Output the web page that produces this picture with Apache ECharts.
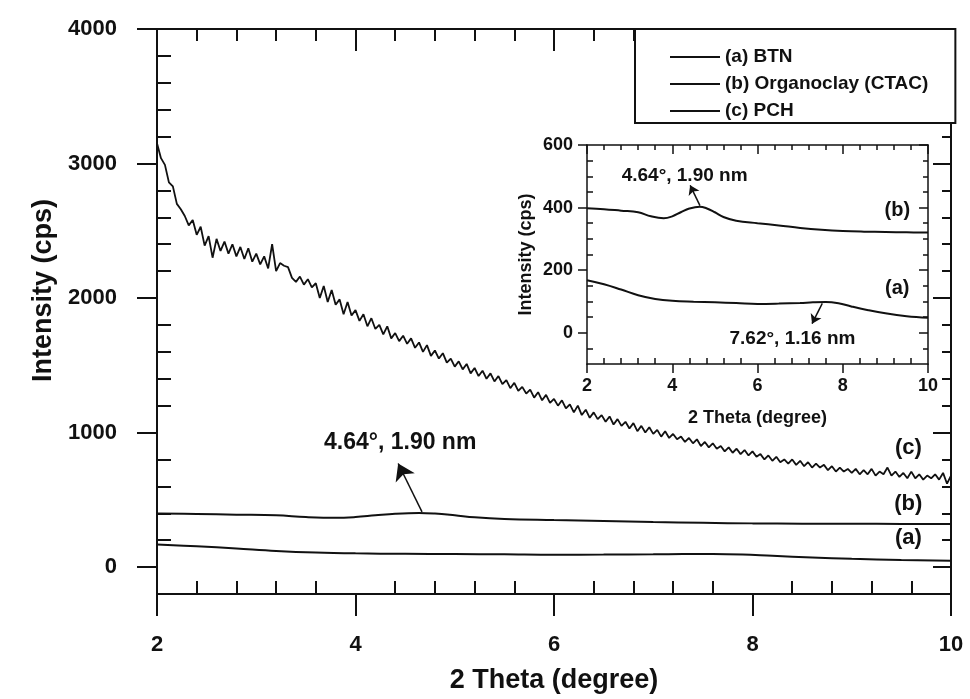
<!DOCTYPE html>
<html>
<head>
<meta charset="utf-8">
<title>XRD patterns BTN / Organoclay / PCH</title>
<script src="https://cdn.jsdelivr.net/npm/echarts@6.0.0/dist/echarts.min.js"></script>
<style>
  html, body { margin: 0; padding: 0; background: #fff; }
  #chart { width: 970px; height: 699px; }
</style>
</head>
<body>
<div id="chart"></div>
<script>
// ---- data ----
const nameA = '(a) BTN'
const nameB = '(b) Organoclay (CTAC)'
const nameC = '(c) PCH'

// (a) BTN
const thetaA = [2.0, 2.4, 2.8, 3.2, 3.6, 4.0, 4.5, 5.0, 5.5, 6.0, 6.5, 7.0, 7.3, 7.6, 7.9, 8.2, 8.6, 9.0, 9.5, 10.0]
const intensityA = [168, 155, 138, 120, 108, 102, 99, 97, 95, 92, 93, 95, 97, 98, 94, 84, 72, 62, 53, 48]

// (b) Organoclay (CTAC)
const thetaB = [2.0, 2.4, 2.8, 3.2, 3.5, 3.8, 4.0, 4.2, 4.4, 4.64, 4.8, 5.0, 5.2, 5.5, 6.0, 6.5, 7.0, 7.5, 8.0, 8.5, 9.0, 9.5, 10.0]
const intensityB = [398, 395, 390, 385, 372, 366, 372, 385, 397, 403, 398, 385, 370, 358, 350, 343, 335, 329, 325, 323, 322, 321, 320]

// (c) PCH, one reading every 0.04 degree from 2 to 10
const thetaStartC = 2
const thetaStepC = 0.04
const intensityC = [
  3150, 3040, 2990, 2860, 2830, 2700, 2660, 2610, 2540, 2580,
  2470, 2530, 2390, 2460, 2300, 2440, 2350, 2420, 2330, 2400,
  2310, 2380, 2290, 2370, 2270, 2330, 2250, 2310, 2220, 2400,
  2200, 2260, 2240, 2230, 2150, 2120, 2160, 2100, 2140, 2080,
  2110, 2000, 2090, 1970, 2060, 1950, 1990, 1880, 1970, 1870,
  1910, 1830, 1880, 1790, 1850, 1770, 1800, 1730, 1790, 1700,
  1740, 1680, 1720, 1660, 1700, 1630, 1670, 1600, 1650, 1570,
  1610, 1550, 1590, 1520, 1550, 1490, 1530, 1470, 1510, 1440,
  1480, 1420, 1460, 1400, 1440, 1380, 1420, 1360, 1390, 1330,
  1370, 1310, 1340, 1290, 1320, 1260, 1300, 1240, 1280, 1220,
  1250, 1200, 1240, 1180, 1210, 1150, 1200, 1130, 1170, 1110,
  1150, 1100, 1130, 1080, 1120, 1060, 1100, 1050, 1080, 1030,
  1070, 1010, 1050, 1000, 1040, 990, 1020, 970, 1010, 960,
  990, 950, 970, 930, 960, 920, 950, 900, 930, 890,
  920, 880, 900, 860, 890, 850, 880, 840, 870, 830,
  860, 820, 840, 800, 830, 790, 820, 780, 800, 770,
  800, 760, 790, 750, 780, 740, 770, 740, 760, 720,
  750, 710, 740, 710, 730, 700, 730, 690, 720, 690,
  730, 680, 710, 690, 740, 680, 710, 670, 700, 660,
  710, 660, 690, 650, 680, 660, 690, 650, 700, 620,
  680
]

// tick values
const xMajor = [2, 4, 6, 8, 10]
const xMinor = [2.4, 2.8, 3.2, 3.6, 4.4, 4.8, 5.2, 5.6, 6.4, 6.8, 7.2, 7.6, 8.4, 8.8, 9.2, 9.6]
const yMajorMain = [0, 1000, 2000, 3000, 4000]
const yMinorMain = [200, 400, 600, 800, 1200, 1400, 1600, 1800, 2200, 2400, 2600, 2800, 3200, 3400, 3600, 3800]
const yMajorInset = [0, 200, 400, 600]
const yMinorInset = [-50, 50, 100, 150, 250, 300, 350, 450, 500, 550]

// ---- annotation texts ----
const peakTextMain = '4.64°, 1.90 nm'
const peakTextB = '4.64°, 1.90 nm'
const peakTextA = '7.62°, 1.16 nm'

const FONT = "'Liberation Sans', Arial, Helvetica, sans-serif"
const INK = '#111'

function pairs(xs, ys) {
  return ys.map(function (y, i) { return [xs[i], y] })
}
const dataC = intensityC.map(function (y, i) {
  return [+(thetaStartC + i * thetaStepC).toFixed(2), y]
})

// one axis = one set of ticks; major and minor ticks point different ways,
// so every side gets two stacked axes
function axis(grid, position, min, max, cfg) {
  return {
    type: 'value',
    gridIndex: grid,
    position: position,
    min: min,
    max: max,
    axisLine: { show: !!cfg.line, onZero: false, lineStyle: { color: INK, width: cfg.lineWidth || 2 } },
    axisTick: {
      show: true,
      inside: !!cfg.inside,
      length: cfg.tickLen,
      customValues: cfg.ticks,
      lineStyle: { color: INK, width: cfg.tickWidth || 2 }
    },
    axisLabel: cfg.labelSize ? {
      show: true,
      customValues: cfg.ticks,
      formatter: function (v) { return String(v) },
      margin: cfg.margin,
      fontSize: cfg.labelSize,
      fontWeight: 'bold',
      fontFamily: FONT,
      color: INK
    } : { show: false },
    splitLine: { show: false },
    name: cfg.name || '',
    nameLocation: 'middle',
    nameGap: cfg.nameGap || 0,
    nameTextStyle: {
      fontSize: cfg.nameSize || 12,
      fontWeight: 'bold',
      fontFamily: FONT,
      color: INK,
      padding: cfg.namePadding || 0
    }
  }
}

function textMark(coord, text, size) {
  return {
    coord: coord,
    label: { formatter: text, fontSize: size }
  }
}

const markText = {
  symbol: 'circle',
  symbolSize: 1,
  silent: true,
  itemStyle: { color: 'rgba(0,0,0,0)' },
  label: { show: true, position: 'inside', fontWeight: 'bold', fontFamily: FONT, color: INK }
}

function arrow(from, to, size) {
  return {
    silent: true,
    symbol: ['none', 'arrow'],
    symbolSize: size,
    label: { show: false },
    lineStyle: { type: 'solid', color: INK, width: 1.5, opacity: 1 },
    itemStyle: { color: INK },
    emphasis: { disabled: true },
    data: [[{ coord: from }, { coord: to }]]
  }
}

const chart = echarts.init(document.getElementById('chart'), null, { renderer: 'canvas' })

const option = {
  animation: false,
  backgroundColor: '#fff',
  grid: [
    { left: 157, right: 19, top: 29, bottom: 105, outerBoundsMode: 'none' },
    { left: 587, right: 42, top: 145, bottom: 335, outerBoundsMode: 'none' }
  ],
  legend: {
    data: [nameA, nameB, nameC],
    orient: 'vertical',
    left: 635,
    top: 29,
    padding: [18, 27, 2, 35],
    itemGap: 7,
    itemWidth: 50,
    itemHeight: 2,
    icon: 'rect',
    selectedMode: false,
    borderColor: INK,
    borderWidth: 2,
    borderRadius: 0,
    backgroundColor: '#fff',
    textStyle: { fontSize: 19, lineHeight: 20, fontWeight: 'bold', fontFamily: FONT, color: INK }
  },
  xAxis: [
    // main
    axis(0, 'bottom', 2, 10, { line: true, ticks: xMajor, tickLen: 22, labelSize: 22, margin: 40,
      name: '2 Theta (degree)', nameGap: 73, nameSize: 27 }),
    axis(0, 'bottom', 2, 10, { ticks: xMinor, tickLen: 13, inside: true }),
    axis(0, 'top', 2, 10, { line: true, ticks: xMinor, tickLen: 12, inside: true }),
    axis(0, 'top', 2, 10, { ticks: xMajor, tickLen: 22, inside: true }),
    // inset
    axis(1, 'bottom', 2, 10, { line: true, lineWidth: 1.5, ticks: xMajor, tickLen: 9, tickWidth: 1.5, labelSize: 18, margin: 13,
      name: '2 Theta (degree)', nameGap: 45, nameSize: 18 }),
    axis(1, 'bottom', 2, 10, { ticks: xMinor, tickLen: 6, tickWidth: 1.5, inside: true }),
    axis(1, 'top', 2, 10, { line: true, lineWidth: 1.5, ticks: xMinor, tickLen: 5, tickWidth: 1.5, inside: true }),
    axis(1, 'top', 2, 10, { ticks: xMajor, tickLen: 9, tickWidth: 1.5, inside: true })
  ],
  yAxis: [
    // main
    axis(0, 'left', -200, 4000, { line: true, ticks: yMajorMain, tickLen: 20, labelSize: 22, margin: 40,
      name: 'Intensity (cps)', nameGap: 98, nameSize: 27, namePadding: [0, 0, 0, 42] }),
    axis(0, 'left', -200, 4000, { ticks: yMinorMain, tickLen: 14, inside: true }),
    axis(0, 'right', -200, 4000, { line: true, ticks: yMinorMain, tickLen: 9, inside: true }),
    axis(0, 'right', -200, 4000, { ticks: yMajorMain, tickLen: 18, inside: true }),
    // inset
    axis(1, 'left', -100, 600, { line: true, lineWidth: 1.5, ticks: yMajorInset, tickLen: 9, tickWidth: 1.5, labelSize: 18, margin: 14,
      name: 'Intensity (cps)', nameGap: 52, nameSize: 18 }),
    axis(1, 'left', -100, 600, { ticks: yMinorInset, tickLen: 6, tickWidth: 1.5, inside: true }),
    axis(1, 'right', -100, 600, { line: true, lineWidth: 1.5, ticks: yMinorInset, tickLen: 5, tickWidth: 1.5, inside: true }),
    axis(1, 'right', -100, 600, { ticks: yMajorInset, tickLen: 9, tickWidth: 1.5, inside: true })
  ],
  series: [
    {
      name: nameA,
      type: 'line',
      xAxisIndex: 0,
      yAxisIndex: 0,
      data: pairs(thetaA, intensityA),
      smooth: 0.4,
      showSymbol: false,
      lineStyle: { color: INK, width: 2 },
      itemStyle: { color: INK },
      markPoint: Object.assign({}, markText, { data: [textMark([9.57, 216], '(a)', 22)] })
    },
    {
      name: nameB,
      type: 'line',
      xAxisIndex: 0,
      yAxisIndex: 0,
      data: pairs(thetaB, intensityB),
      smooth: 0.4,
      showSymbol: false,
      lineStyle: { color: INK, width: 2 },
      itemStyle: { color: INK },
      markPoint: Object.assign({}, markText, {
        data: [textMark([9.57, 469], '(b)', 22), textMark([4.45, 924], peakTextMain, 23)]
      }),
      markLine: arrow([4.67, 410], [4.43, 770], 16)
    },
    {
      name: nameC,
      type: 'line',
      xAxisIndex: 0,
      yAxisIndex: 0,
      data: dataC,
      showSymbol: false,
      lineStyle: { color: INK, width: 1.8 },
      itemStyle: { color: INK },
      markPoint: Object.assign({}, markText, { data: [textMark([9.57, 886], '(c)', 22)] })
    },
    // inset
    {
      name: nameA,
      type: 'line',
      xAxisIndex: 4,
      yAxisIndex: 4,
      data: pairs(thetaA, intensityA),
      smooth: 0.4,
      showSymbol: false,
      lineStyle: { color: INK, width: 2 },
      itemStyle: { color: INK },
      markPoint: Object.assign({}, markText, {
        data: [textMark([9.28, 142], '(a)', 20), textMark([6.82, -19], peakTextA, 19)]
      }),
      markLine: arrow([7.52, 94], [7.28, 29], 9)
    },
    {
      name: nameB,
      type: 'line',
      xAxisIndex: 4,
      yAxisIndex: 4,
      data: pairs(thetaB, intensityB),
      smooth: 0.4,
      showSymbol: false,
      lineStyle: { color: INK, width: 2 },
      itemStyle: { color: INK },
      markPoint: Object.assign({}, markText, {
        data: [textMark([9.28, 390], '(b)', 20), textMark([4.29, 503], peakTextB, 19)]
      }),
      markLine: arrow([4.65, 406], [4.42, 471], 9)
    }
  ]
}

chart.setOption(option)
</script>
</body>
</html>
